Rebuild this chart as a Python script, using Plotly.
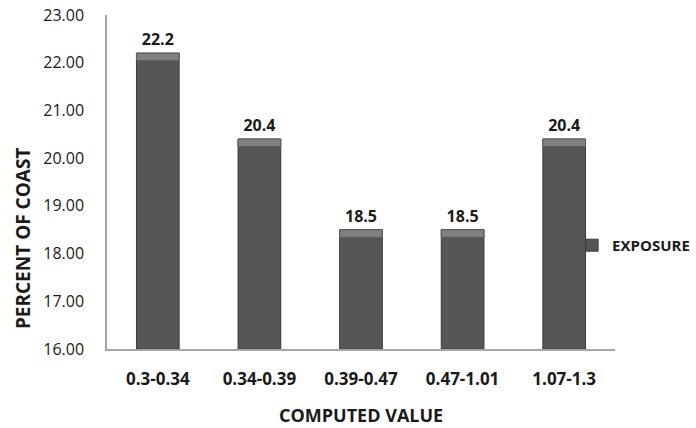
import plotly.graph_objects as go

categories = ["0.3-0.34", "0.34-0.39", "0.39-0.47", "0.47-1.01", "1.07-1.3"]
exposure = [22.2, 20.4, 18.5, 18.5, 20.4]
y_ticks = [16, 17, 18, 19, 20, 21, 22, 23]
axis_floor = 16
bevel_depth = 0.16  # height of the lighter cap on each bar, in axis units

font_family = "Open Sans, Liberation Sans, Arial, sans-serif"
ink = "#1a1a1a"

fig = go.Figure()
fig.add_trace(go.Bar(
    x=categories,
    y=[v - axis_floor for v in exposure],
    base=axis_floor,
    name="EXPOSURE",
    width=0.42,
    marker=dict(color="#565656", line=dict(color="#3a3a3a", width=1)),
    text=[f"{v:.1f}" for v in exposure],
    textposition="outside",
    textfont=dict(family=font_family, size=16, color=ink, weight="bold"),
    cliponaxis=False,
))
# lighter bevelled cap along the top of every bar
fig.add_trace(go.Bar(
    x=categories,
    y=[bevel_depth] * len(exposure),
    base=[v - bevel_depth for v in exposure],
    width=0.42,
    marker=dict(color="#808080", line=dict(color="#5a5a5a", width=1)),
    showlegend=False,
    hoverinfo="skip",
))

fig.update_layout(
    width=696, height=428,
    margin=dict(l=107, r=81, t=15, b=79, autoexpand=False),
    paper_bgcolor="white", plot_bgcolor="white",
    font=dict(family=font_family, color=ink),
    barmode="overlay",
    showlegend=True,
    legend=dict(xref="container", x=0.822, yref="paper", y=0.31,
                xanchor="left", yanchor="middle",
                font=dict(size=15, family=font_family, weight="bold"),
                itemwidth=30, bgcolor="rgba(0,0,0,0)"),
    annotations=[
        dict(text="PERCENT OF COAST", textangle=-90,
             xref="paper", x=0, xshift=-84, xanchor="center",
             yref="paper", y=0.332, yanchor="middle", showarrow=False,
             font=dict(size=19, family=font_family, weight="bold", color=ink)),
        dict(text="COMPUTED VALUE",
             xref="paper", x=0.5, xanchor="center",
             yref="paper", y=0, yshift=-66, yanchor="middle", showarrow=False,
             font=dict(size=18, family=font_family, weight="bold", color=ink)),
    ],
)
fig.update_xaxes(
    showline=True, linecolor="#a6a6a6", linewidth=1.5,
    tickfont=dict(size=17, family=font_family, weight="bold"),
    ticks="", ticklabelstandoff=14,
)
fig.update_yaxes(
    range=[16, 23], tickvals=y_ticks,
    ticktext=[f"{t:.2f}" for t in y_ticks],
    showline=True, linecolor="#a6a6a6", linewidth=1.5,
    showgrid=False, zeroline=False, ticks="",
    tickfont=dict(size=16, family=font_family),
    ticklabelstandoff=18,
)

fig.write_html("out.html")
